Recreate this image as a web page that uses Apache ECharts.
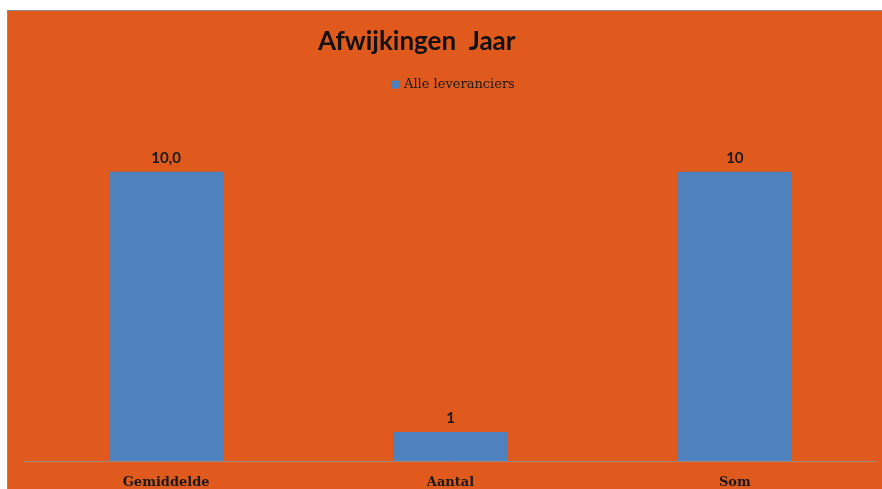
<!DOCTYPE html>
<html>
<head>
<meta charset="utf-8">
<script src="https://cdn.jsdelivr.net/npm/echarts@6/dist/echarts.min.js"></script>
<style>
html,body{margin:0;padding:0;background:#fff;width:882px;height:489px;overflow:hidden;}
#wrap{position:absolute;left:7px;top:10px;border-left:1px solid #8c8c8c;border-top:1px solid #8c8c8c;}
#chart{width:874px;height:478px;}
</style>
</head>
<body>
<div id="wrap"><div id="chart"></div></div>
<script>
const titleText = 'Afwijkingen  Jaar';
const seriesName = 'Alle leveranciers';
const categories = ['Gemiddelde', 'Aantal', 'Som'];
const values = [10.0, 1, 10];
const valueLabels = ['10,0', '1', '10'];

const chart = echarts.init(document.getElementById('chart'));
chart.setOption({
  backgroundColor: '#E0591D',
  animation: false,
  title: {
    text: titleText,
    left: 305,
    top: 13,
    textStyle: { fontFamily: 'Lato', fontWeight: 'bold', fontSize: 26, color: '#111' }
  },
  legend: {
    data: [seriesName],
    left: 378,
    top: 62,
    itemWidth: 8,
    itemHeight: 8,
    icon: 'rect',
    itemGap: 5,
    textStyle: { fontFamily: 'DejaVu Serif', fontSize: 13, color: '#1a1a1a' }
  },
  grid: { left: 16, right: 5, top: 103, bottom: 28, containLabel: false },
  xAxis: {
    type: 'category',
    data: categories,
    axisLine: { lineStyle: { color: '#9a8a80', width: 1 } },
    axisTick: { show: false },
    axisLabel: {
      margin: 15,
      fontFamily: 'DejaVu Serif',
      fontWeight: 'bold',
      fontSize: 13,
      color: '#1a1a1a'
    }
  },
  yAxis: {
    type: 'value',
    min: 0,
    max: 12,
    show: false,
    splitLine: { show: false }
  },
  series: [{
    name: seriesName,
    type: 'bar',
    data: values,
    barWidth: '40%',
    itemStyle: { color: '#4F81BD' },
    label: {
      show: true,
      position: 'top',
      distance: 6,
      fontFamily: 'Lato',
      fontWeight: 'bold',
      fontSize: 15,
      color: '#1a1a1a',
      formatter: p => valueLabels[p.dataIndex]
    }
  }]
});
</script>
</body>
</html>
